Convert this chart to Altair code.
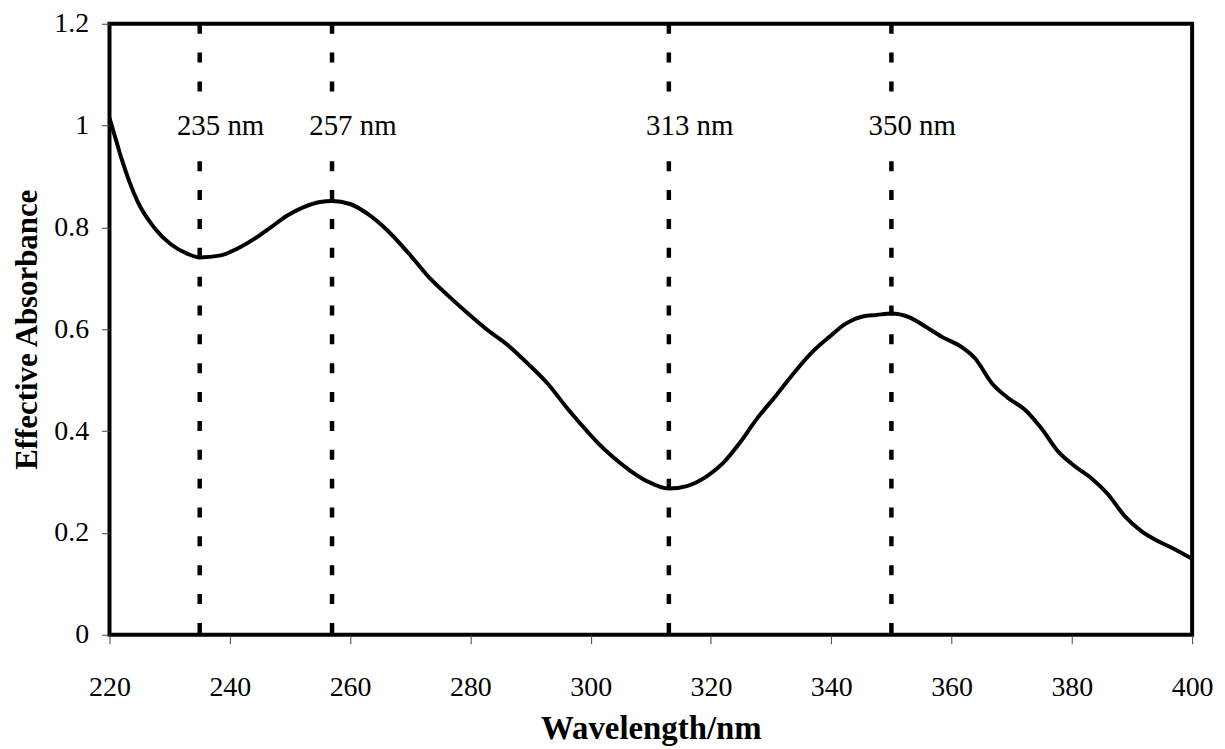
import altair as alt
import pandas as pd

# Spectrum
wavelength = [220, 221, 222, 223.3, 224.7, 227.4, 230.2, 233, 235, 238.5, 241.2, 244, 246.8,
              249.5, 252.3, 255, 257, 260, 263, 266.3, 269.6, 272.9, 276.3, 279.6, 282.9,
              286.2, 289.5, 292.8, 296.1, 299.4, 301.1, 303.8, 306.6, 309.3, 313, 316, 319.3,
              322, 324.8, 327.5, 330.9, 334.2, 336.9, 339.7, 342.4, 345.2, 347.5, 350, 352.9,
              355.7, 358.4, 361.7, 363.9, 366.7, 369.4, 372.2, 374.9, 377.7, 380.5, 383.2,
              386, 388.8, 391.5, 394.3, 397.1, 400]
absorbance = [1.015, 0.975, 0.935, 0.89, 0.850, 0.800, 0.767, 0.748, 0.741, 0.745, 0.758,
              0.777, 0.800, 0.823, 0.840, 0.850, 0.852, 0.846, 0.826, 0.793, 0.751, 0.705,
              0.666, 0.631, 0.598, 0.569, 0.533, 0.494, 0.445, 0.400, 0.378, 0.348, 0.322,
              0.302, 0.287, 0.292, 0.311, 0.337, 0.377, 0.422, 0.471, 0.520, 0.556, 0.585,
              0.611, 0.625, 0.628, 0.631, 0.624, 0.605, 0.585, 0.565, 0.543, 0.494, 0.465,
              0.442, 0.406, 0.360, 0.331, 0.308, 0.276, 0.233, 0.204, 0.184, 0.168, 0.149]

# Marked wavelengths
marker_nm = [235, 257, 313, 350]
marker_labels = ["235 nm", "257 nm", "313 nm", "350 nm"]

x_ticks = [220, 240, 260, 280, 300, 320, 340, 360, 380, 400]
y_ticks = [0, 0.2, 0.4, 0.6, 0.8, 1.0, 1.2]

FONT = "Liberation Serif"

spec_df = pd.DataFrame({"wl": wavelength, "abs": absorbance})

# Dashed markers in two pieces, leaving a gap behind the label
seg_rows = []
for nm in marker_nm:
    seg_rows.append({"wl": nm, "y1": 1.2, "y2": 1.065})
    seg_rows.append({"wl": nm, "y1": 0.93, "y2": 0.0})
seg_df = pd.DataFrame(seg_rows)

label_df = pd.DataFrame({"wl": marker_nm, "label": marker_labels, "y": [0.981] * 4})

x_scale = alt.Scale(domain=[220, 400], nice=False, zero=False)
y_scale = alt.Scale(domain=[0, 1.2], nice=False)

x_axis = alt.Axis(
    values=x_ticks, title="Wavelength/nm", grid=False, domain=False,
    tickSize=9, tickWidth=1, tickColor="#444",
    labelFont=FONT, labelFontSize=28, labelColor="black", labelFlush=False,
    labelBaseline="alphabetic", labelPadding=52, labelOverlap=False,
    titleFont=FONT, titleFontSize=33, titleFontWeight="bold", titleColor="black",
    titleBaseline="alphabetic", titleY=104, titleX=544,
)
y_axis = alt.Axis(
    values=y_ticks, format=".1~f", title="Effective Absorbance", grid=False, domain=False,
    tickSize=8, tickWidth=1, tickColor="#444",
    labelFont=FONT, labelFontSize=28, labelColor="black", labelPadding=13,
    labelFlush=False, labelOverlap=False,
    titleFont=FONT, titleFontSize=31, titleFontWeight="bold", titleColor="black",
    titleBaseline="alphabetic", titleX=-73, titleY=307, titleAngle=-90, titleAlign="center",
)

line = alt.Chart(spec_df).mark_line(color="black", strokeWidth=4, interpolate="monotone").encode(
    x=alt.X("wl:Q", scale=x_scale, axis=x_axis),
    y=alt.Y("abs:Q", scale=y_scale, axis=y_axis),
)

rules = alt.Chart(seg_df).mark_rule(color="black", strokeWidth=4.5, strokeDash=[10, 19],
                                    strokeCap="butt").encode(
    x=alt.X("wl:Q", scale=x_scale),
    y=alt.Y("y1:Q", scale=y_scale),
    y2="y2:Q",
)

labels = alt.Chart(label_df).mark_text(font=FONT, fontSize=29, color="black",
                                       align="center", baseline="alphabetic", dx=21).encode(
    x=alt.X("wl:Q", scale=x_scale),
    y=alt.Y("y:Q", scale=y_scale),
    text="label:N",
)

chart = alt.layer(rules, line, labels).properties(
    width=1088, height=614,
    autosize=alt.AutoSizeParams(type="none"),
    padding={"left": 102, "top": 14, "right": 25, "bottom": 112},
    background="white",
).configure_view(stroke="black", strokeWidth=4)

chart.save("out.html", embed_options={"renderer": "svg", "actions": False})
